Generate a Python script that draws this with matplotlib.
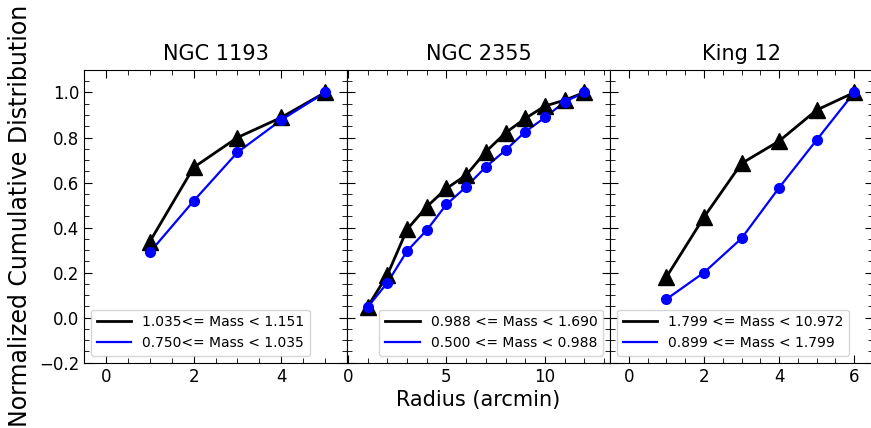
'''Normalized cumulative radial distribution of two mass groups in three clusters'''

######################################
#IMPORTS
import matplotlib
matplotlib.use("Agg")
import matplotlib.pyplot as plt
from matplotlib.ticker import AutoMinorLocator, MultipleLocator
######################################

#cluster names used for the panel titles
clusters = ["NGC 1193", "NGC 2355", "King 12"]

#radius bins (arcmin)
r_1193 = [1, 2, 3, 4, 5]
r_2355 = [1, 2, 3, 4, 5, 6, 7, 8, 9, 10, 11, 12]
r_king12 = [1, 2, 3, 4, 5, 6]

#massive group (black triangles)
high_1193 = [0.337, 0.667, 0.800, 0.889, 1.000]
high_2355 = [0.049, 0.190, 0.392, 0.493, 0.574, 0.633, 0.737, 0.821, 0.885, 0.940, 0.966, 1.000]
high_king12 = [0.180, 0.446, 0.685, 0.784, 0.922, 1.000]

#low mass group (blue circles)
low_1193 = [0.290, 0.518, 0.734, 0.878, 1.000]
low_2355 = [0.047, 0.155, 0.296, 0.389, 0.503, 0.581, 0.670, 0.744, 0.826, 0.889, 0.959, 1.000]
low_king12 = [0.082, 0.200, 0.352, 0.577, 0.789, 1.000]

#legend labels
high_labels = ["1.035<= Mass < 1.151", "0.988 <= Mass < 1.690", "1.799 <= Mass < 10.972"]
low_labels = ["0.750<= Mass < 1.035", "0.500 <= Mass < 0.988", "0.899 <= Mass < 1.799"]


def drawPanel(ax, r, high, low, title, hlabel, llabel, xlim, xmajor, legloc):
    #black line + triangles
    ax.plot(r, high, color="black", lw=2, label=hlabel)
    ax.plot(r, high, "^", color="black", ms=12, zorder=3)
    #blue line + circles
    ax.plot(r, low, color="blue", lw=1.6, label=llabel)
    ax.plot(r, low, "o", color="blue", ms=7, zorder=4)

    ax.set_title(title, fontsize=15, pad=7)
    ax.set_xlim(xlim)
    ax.set_ylim(-0.2, 1.1)
    ax.xaxis.set_major_locator(MultipleLocator(xmajor))
    ax.yaxis.set_major_locator(MultipleLocator(0.2))
    ax.xaxis.set_minor_locator(AutoMinorLocator())
    ax.yaxis.set_minor_locator(AutoMinorLocator())
    ax.tick_params(which="both", direction="in", top=True, right=True, labelsize=12)
    ax.tick_params(which="major", length=6)
    ax.tick_params(which="minor", length=3.5)
    ax.legend(loc=legloc, fontsize=10, handlelength=2.5)


def main():
    fig = plt.figure(figsize=(8.71, 4.28), dpi=100)

    #three panels side by side, no gap
    left = 84 / 871
    width = 263 / 871
    bottom = 0.1526
    height = 0.6839
    axes = [fig.add_axes([left + i * width, bottom, width, height]) for i in range(3)]

    drawPanel(axes[0], r_1193, high_1193, low_1193, clusters[0],
              high_labels[0], low_labels[0], (-0.5, 5.5), 2, "lower left")
    drawPanel(axes[1], r_2355, high_2355, low_2355, clusters[1],
              high_labels[1], low_labels[1], (-0.05, 13.3), 5, "lower right")
    drawPanel(axes[2], r_king12, high_king12, low_king12, clusters[2],
              high_labels[2], low_labels[2], (-0.5, 6.5), 2, "lower left")

    #only the first panel keeps y tick labels
    for ax in axes[1:]:
        ax.tick_params(labelleft=False)

    axes[0].set_ylabel("Normalized Cumulative Distribution", fontsize=17, labelpad=5)
    axes[1].set_xlabel("Radius (arcmin)", fontsize=15, labelpad=3)

    fig.savefig("out.png", dpi=100)


if __name__ == "__main__":
    main()
